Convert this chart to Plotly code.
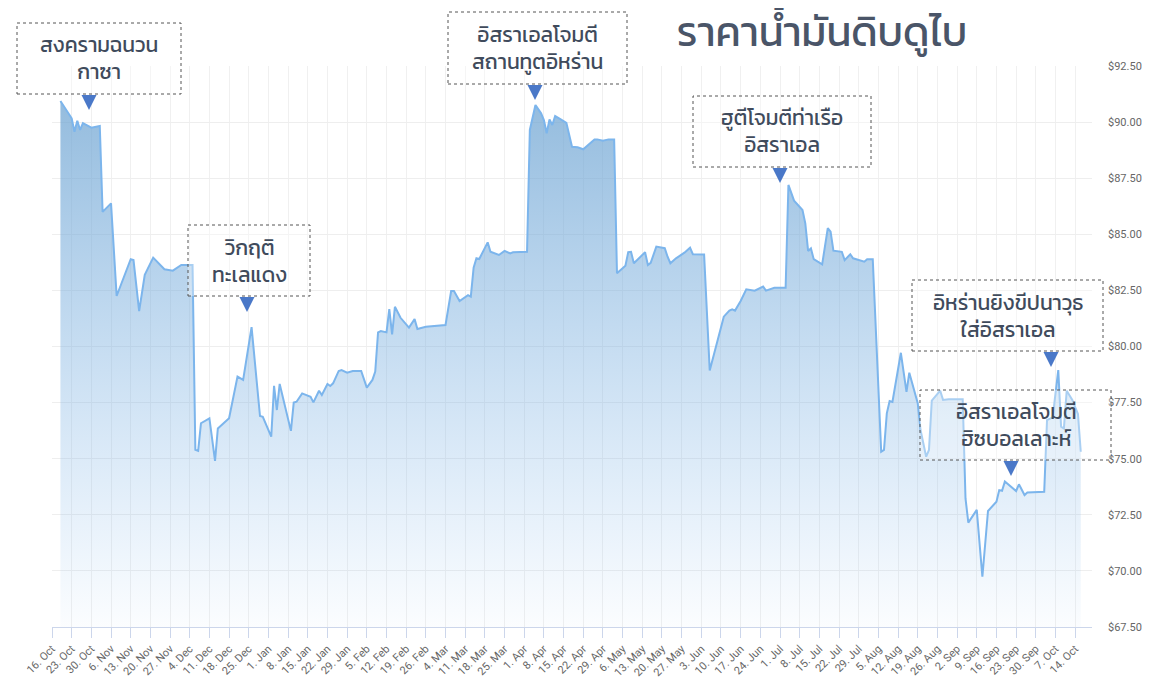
import plotly.graph_objects as go

# ---------------- data ----------------
dates = [
    "2023-10-19", "2023-10-23", "2023-10-24", "2023-10-25", "2023-10-26", "2023-10-27",
    "2023-10-30", "2023-11-02", "2023-11-03", "2023-11-06", "2023-11-08", "2023-11-13",
    "2023-11-14", "2023-11-16", "2023-11-18", "2023-11-21", "2023-11-25", "2023-11-28",
    "2023-12-01", "2023-12-05", "2023-12-06", "2023-12-07", "2023-12-08", "2023-12-11",
    "2023-12-13", "2023-12-14", "2023-12-18", "2023-12-21", "2023-12-23", "2023-12-26",
    "2023-12-29", "2023-12-30", "2024-01-02", "2024-01-03", "2024-01-04", "2024-01-05",
    "2024-01-09", "2024-01-10", "2024-01-11", "2024-01-13", "2024-01-16", "2024-01-17",
    "2024-01-19", "2024-01-20", "2024-01-22", "2024-01-23", "2024-01-24", "2024-01-26",
    "2024-01-27", "2024-01-29", "2024-01-31", "2024-02-03", "2024-02-05", "2024-02-07",
    "2024-02-08", "2024-02-09", "2024-02-10", "2024-02-12", "2024-02-13", "2024-02-14",
    "2024-02-15", "2024-02-17", "2024-02-20", "2024-02-22", "2024-02-23", "2024-02-26",
    "2024-03-04", "2024-03-06", "2024-03-07", "2024-03-09", "2024-03-12", "2024-03-13",
    "2024-03-14", "2024-03-15", "2024-03-16", "2024-03-19", "2024-03-20", "2024-03-23",
    "2024-03-25", "2024-03-27", "2024-03-28", "2024-04-02", "2024-04-03", "2024-04-04",
    "2024-04-05", "2024-04-07", "2024-04-08", "2024-04-09", "2024-04-10", "2024-04-11",
    "2024-04-12", "2024-04-14", "2024-04-16", "2024-04-18", "2024-04-20", "2024-04-22",
    "2024-04-26", "2024-04-27", "2024-04-29", "2024-05-01", "2024-05-03", "2024-05-04",
    "2024-05-06", "2024-05-07", "2024-05-08", "2024-05-09", "2024-05-10", "2024-05-14",
    "2024-05-15", "2024-05-16", "2024-05-18", "2024-05-21", "2024-05-22", "2024-05-23",
    "2024-05-25", "2024-05-28", "2024-05-30", "2024-05-31", "2024-06-04", "2024-06-06",
    "2024-06-11", "2024-06-13", "2024-06-14", "2024-06-15", "2024-06-17", "2024-06-19",
    "2024-06-22", "2024-06-25", "2024-06-26", "2024-06-29", "2024-07-03", "2024-07-04",
    "2024-07-06", "2024-07-09", "2024-07-10", "2024-07-11", "2024-07-12", "2024-07-13",
    "2024-07-16", "2024-07-18", "2024-07-19", "2024-07-20", "2024-07-23", "2024-07-24",
    "2024-07-26", "2024-07-27", "2024-07-31", "2024-08-01", "2024-08-03", "2024-08-06",
    "2024-08-07", "2024-08-08", "2024-08-09", "2024-08-10", "2024-08-13", "2024-08-15",
    "2024-08-16", "2024-08-19", "2024-08-20", "2024-08-22", "2024-08-23", "2024-08-24",
    "2024-08-27", "2024-08-28", "2024-08-30", "2024-09-04", "2024-09-05", "2024-09-06",
    "2024-09-09", "2024-09-11", "2024-09-13", "2024-09-16", "2024-09-17", "2024-09-18",
    "2024-09-19", "2024-09-22", "2024-09-23", "2024-09-24", "2024-09-26", "2024-09-27",
    "2024-10-01", "2024-10-03", "2024-10-04", "2024-10-06", "2024-10-08", "2024-10-09",
    "2024-10-10", "2024-10-11", "2024-10-13", "2024-10-15", "2024-10-16",
]

prices = [
    90.94, 90.17, 89.57, 90.06, 89.65, 89.95,
    89.75, 89.83, 86.00, 86.38, 82.25, 83.89,
    83.85, 81.58, 83.19, 83.96, 83.44, 83.38,
    83.63, 83.63, 75.40, 75.35, 76.58, 76.80,
    74.90, 76.35, 76.80, 78.66, 78.51, 80.86,
    76.90, 76.87, 75.98, 78.25, 77.17, 78.33,
    76.24, 77.50, 77.54, 77.91, 77.76, 77.51,
    78.03, 77.84, 78.33, 78.24, 78.36, 78.91,
    78.95, 78.83, 78.91, 78.91, 78.17, 78.51,
    78.88, 80.63, 80.69, 80.63, 81.67, 80.54,
    81.77, 81.28, 80.84, 81.22, 80.78, 80.88,
    80.96, 82.47, 82.47, 82.03, 82.29, 82.22,
    83.51, 83.93, 83.90, 84.64, 84.22, 84.08,
    84.26, 84.15, 84.20, 84.22, 89.65, 90.24,
    90.76, 90.39, 90.09, 89.50, 90.12, 89.87,
    90.27, 90.12, 89.97, 88.90, 88.88, 88.79,
    89.23, 89.23, 89.17, 89.23, 89.23, 83.26,
    83.48, 83.60, 84.20, 84.22, 83.71, 84.20,
    83.63, 83.73, 84.45, 84.38, 84.00, 83.71,
    83.93, 84.18, 84.40, 84.11, 84.10, 78.93,
    81.33, 81.60, 81.66, 81.60, 82.03, 82.55,
    82.49, 82.67, 82.49, 82.62, 82.62, 87.20,
    86.50, 86.08, 85.49, 84.26, 84.37, 83.89,
    83.66, 85.27, 85.12, 84.27, 84.22, 83.85,
    84.11, 83.93, 83.78, 83.89, 83.89, 75.31,
    75.39, 77.02, 77.57, 77.53, 79.72, 77.98,
    78.83, 77.47, 76.28, 75.09, 75.39, 77.59,
    78.03, 77.62, 77.65, 77.65, 73.23, 72.15,
    72.72, 69.74, 72.67, 73.08, 73.60, 73.57,
    73.98, 73.64, 73.56, 73.86, 73.38, 73.49,
    73.53, 73.53, 76.72, 76.84, 78.95, 76.43,
    76.35, 78.03, 77.62, 76.99, 75.31,
]

title_text = "ราคาน้ำมันดิบดูไบ"

event_labels = [
    "สงครามฉนวน<br>กาซา",
    "วิกฤติ<br>ทะเลแดง",
    "อิสราเอลโจมตี<br>สถานทูตอิหร่าน",
    "ฮูตีโจมตีท่าเรือ<br>อิสราเอล",
    "อิหร่านยิงขีปนาวุธ<br>ใส่อิสราเอล",
    "อิสราเอลโจมตี<br>ฮิซบอลเลาะห์",
]

# ---------------- layout constants ----------------
# The page has an 8px body margin, so the figure is drawn 8px in from the
# window edge; the figure is sized so it still fills the 1175x677 window.
OFF = 8
W, H = 1175 - OFF, 677 - OFF
# plot area edges, in window pixels
PL, PR, PT, PB = 52, 1092, 66, 627

# label boxes in window pixels: (left, top, right, bottom, triangle centre x)
boxes = [
    (17, 23, 181, 94, 89),
    (188, 225, 310, 296, 247),
    (448, 12, 627, 84, 535),
    (693, 96, 871, 167, 780),
    (912, 280, 1103, 351, 1051),
    (920, 390, 1111, 460, 1011),
]
text_centers_x = [99, 249, 537, 782, 1008, 1016]


def px(x):
    return (x - PL) / (PR - PL)


def py(y):
    return (PB - y) / (PB - PT)


fig = go.Figure()
fig.add_trace(go.Scatter(
    x=dates, y=prices, mode="lines",
    line=dict(color="#7cb5ec", width=2),
    fill="tozeroy",
    fillgradient=dict(
        type="vertical",
        colorscale=[[0, "rgba(124,181,236,0.03)"], [1, "rgba(112,165,210,0.75)"]],
        start=67.5, stop=91.0,
    ),
    hoverinfo="x+y",
    showlegend=False,
))

shapes = []
annotations = []
text_color = "#404b5c"
thai_font = "Kanit, Prompt, 'Noto Sans Thai', 'Noto Sans', sans-serif"
for (l, t, r, b, tx), lab, cx in zip(boxes, event_labels, text_centers_x):
    shapes.append(dict(
        type="rect", xref="paper", yref="paper",
        x0=px(l), x1=px(r), y0=py(b), y1=py(t),
        line=dict(color="#555555", width=1, dash="dot"),
        fillcolor="rgba(255,255,255,0.35)", layer="above",
    ))
    # downward triangle under the box
    x0, x1, xm = px(tx - 7.5), px(tx + 7.5), px(tx)
    y0, y1 = py(b + 1), py(b + 16)
    shapes.append(dict(
        type="path", xref="paper", yref="paper",
        path=f"M {x0} {y0} L {x1} {y0} L {xm} {y1} Z",
        fillcolor="#4a78c8", line=dict(width=0), layer="above",
    ))
    annotations.append(dict(
        xref="paper", yref="paper", x=px(cx), y=py((t + b) / 2),
        text=lab, showarrow=False, xanchor="center", yanchor="middle",
        font=dict(family=thai_font, size=21, color=text_color),
        align="center",
    ))

fig.update_layout(
    width=W, height=H,
    margin=dict(l=PL - OFF, r=1175 - PR, t=PT - OFF, b=677 - PB, autoexpand=False),
    paper_bgcolor="white", plot_bgcolor="white",
    title=dict(
        text=title_text, x=(822 - OFF) / W, xanchor="center",
        y=1 - (32 - OFF) / H, yanchor="middle",
        font=dict(family=thai_font, size=41, color="#4a5568"),
    ),
    xaxis=dict(
        type="date",
        range=["2023-10-16", "2024-10-20"],
        tick0="2023-10-16", dtick=7 * 86400000,
        tickformat="%-d. %b", tickangle=-45,
        ticks="outside", ticklen=10, tickcolor="#ccd6eb",
        showgrid=True, gridcolor="#f0f0f0", gridwidth=1,
        showline=True, linecolor="#ccd6eb", linewidth=1,
        tickfont=dict(family="Roboto, 'Liberation Sans', sans-serif", size=11, color="#666666"),
        automargin=False, zeroline=False,
    ),
    yaxis=dict(
        side="right", range=[67.5, 92.5], dtick=2.5, tick0=67.5,
        tickprefix="$", tickformat=".2f",
        showgrid=True, gridcolor="#eeeeee", gridwidth=1,
        zeroline=False, showline=False, ticks="",
        ticklabelstandoff=15,
        tickfont=dict(family="Roboto, 'Liberation Sans', sans-serif", size=11, color="#666666"),
        automargin=False,
    ),
    shapes=shapes,
    annotations=annotations,
    hovermode="x",
)

fig.write_html("out.html")
